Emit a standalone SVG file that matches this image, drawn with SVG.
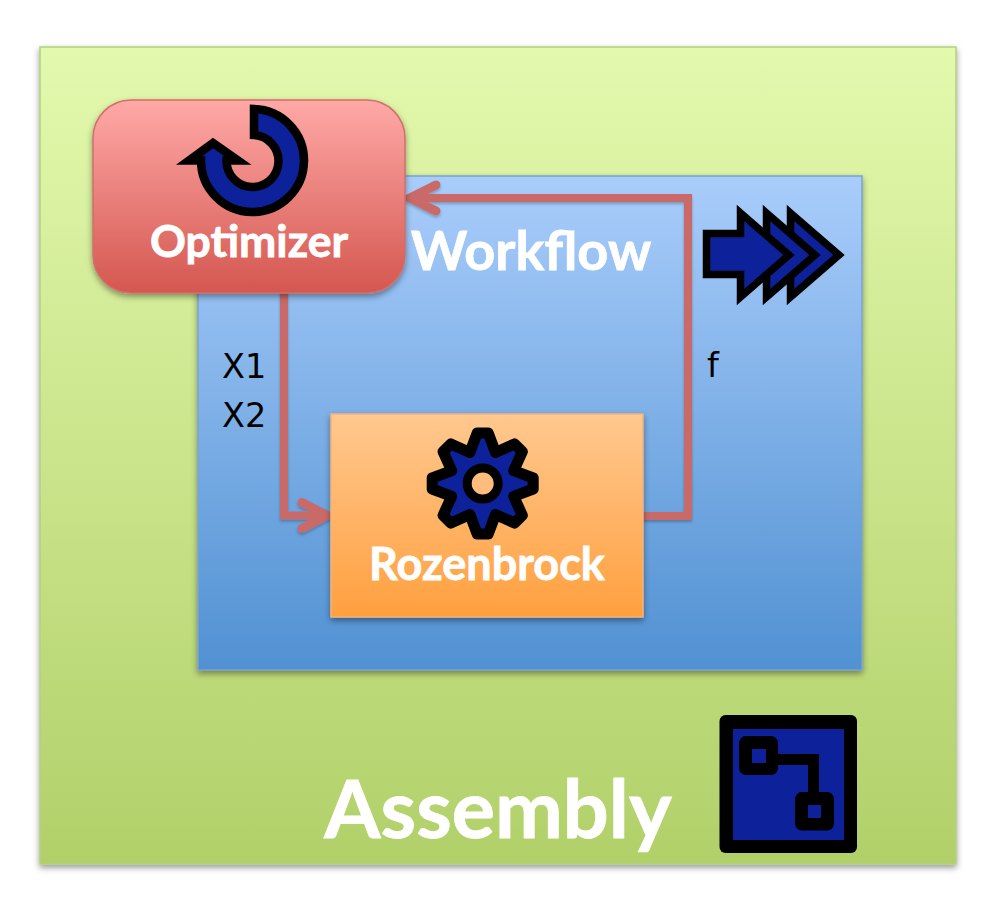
<svg xmlns="http://www.w3.org/2000/svg" width="992" height="908" viewBox="0 0 992 908">
<style>
.t{font-family:"Lato","Liberation Sans",sans-serif;font-weight:700;fill:#fff;stroke:#fff;stroke-width:.8;text-anchor:middle}
.l{font-family:"DejaVu Sans",sans-serif;font-size:33.500px;fill:#000}
.i{fill:#0d219a;stroke:#000;stroke-miterlimit:10}
.k{fill:#000}
.b{fill:#0d219a}
.c{fill:none;stroke:#c96a68;stroke-width:8;stroke-linejoin:miter}
.h{fill:none;stroke:#c96a68;stroke-width:9;stroke-linecap:round;stroke-linejoin:miter}
</style>
<defs>
<linearGradient id="ga" x1="0" y1="0" x2="0" y2="1"><stop offset="0" stop-color="#e3f9ae"/><stop offset="1" stop-color="#b1d069"/></linearGradient>
<linearGradient id="gw" x1="0" y1="0" x2="0" y2="1"><stop offset="0" stop-color="#a9cdfb"/><stop offset="1" stop-color="#5191d2"/></linearGradient>
<linearGradient id="go" x1="0" y1="0" x2="0" y2="1"><stop offset="0" stop-color="#ffa9a7"/><stop offset="1" stop-color="#d4574f"/></linearGradient>
<linearGradient id="gr" x1="0" y1="0" x2="0" y2="1"><stop offset="0" stop-color="#ffc88f"/><stop offset="1" stop-color="#ffa03f"/></linearGradient>
<filter id="s" x="-5%" y="-5%" width="110%" height="110%"><feDropShadow dx="0" dy="3" stdDeviation="3" flood-color="#000" flood-opacity="0.4"/></filter>
<filter id="cs" x="-10%" y="-10%" width="120%" height="120%"><feDropShadow dx="0" dy="2" stdDeviation="1.500" flood-color="#000" flood-opacity="0.25"/></filter>
</defs>
<g id="assembly">
<rect x="40" y="47" width="916" height="817" fill="url(#ga)" stroke="#b4cf80" stroke-width="1.500" filter="url(#s)"/>
<text class="t" x="498" y="838" font-size="81">Assembly</text>
<g id="assembly-icon">
<rect class="k" x="719.500" y="715" width="137.500" height="138" rx="6"/>
<rect class="b" x="733" y="729" width="111" height="111"/>
<path d="M770 759.500H813.500V800" fill="none" stroke="#000" stroke-width="11"/>
<rect class="k" x="739" y="736" width="39" height="39" rx="7"/>
<rect class="b" x="752" y="749" width="14" height="14"/>
<rect class="k" x="795" y="792" width="39" height="38.500" rx="7"/>
<rect class="b" x="808" y="805" width="13" height="13"/>
</g>
</g>
<g id="workflow">
<rect x="198" y="176" width="664" height="494" fill="url(#gw)" stroke="#7ba3d0" stroke-width="1.500" filter="url(#s)"/>
<text class="t" x="531" y="270" font-size="54">Workflow</text>
<g id="workflow-icon">
<path class="i" style="stroke-width:7.500" d="M790.500 213L839 255L790.500 297Z"/>
<path class="i" style="stroke-width:7.500" d="M766.500 213L815 255L766.500 297Z"/>
<path class="i" style="stroke-width:7.500" d="M706.500 233.500H740.500V213L789 255L740.500 297V274.500H706.500Z"/>
</g>
</g>
<g id="connectors">
<g filter="url(#cs)">
<path class="c" d="M284 290V515.500H324"/>
<path class="h" d="M302 502.500L327 515.500L302 528.500"/>
<path class="c" d="M640 516H688V198H412"/>
<path class="h" d="M436 185L410 198L436 211"/>
</g>
<text class="l" x="222" y="378">X1</text>
<text class="l" x="222" y="427">X2</text>
<text class="l" x="707" y="377">f</text>
</g>
<g id="optimizer">
<rect x="93" y="100" width="312" height="193" rx="38" fill="url(#go)" stroke="#cf6f6b" stroke-width="1.500" filter="url(#s)"/>
<path class="i" style="stroke-width:8.500" d="M254 109A51.500 51.500 0 1 1 201 160.500L189 160.500L213 143L238 160.500L226.500 160.500A26 26 0 1 0 254 135Z"/>
<text class="t" x="249" y="257" font-size="44.500">Optimizer</text>
</g>
<g id="rozenbrock">
<rect x="331" y="414" width="312" height="203" fill="url(#gr)" stroke="#f2b27a" stroke-width="1.500" filter="url(#s)"/>
<g transform="translate(482.700 483.500)">
<polygon class="i" style="stroke-width:11;stroke-linejoin:round" points="-5.500,-50.500 5.500,-50.500 12.800,-31 31.800,-39.600 39.600,-31.800 31,-12.800 50.500,-5.500 50.500,5.500 31,12.800 39.600,31.800 31.800,39.600 12.800,31 5.500,50.500 -5.500,50.500 -12.800,31 -31.800,39.600 -39.600,31.800 -31,12.800 -50.500,5.500 -50.500,-5.500 -31,-12.800 -39.600,-31.800 -31.800,-39.600 -12.800,-31"/>
<circle r="15.500" fill="#ffbd7d" stroke="#000" stroke-width="9"/>
</g>
<text class="t" x="487" y="580" font-size="45">Rozenbrock</text>
</g>
</svg>
